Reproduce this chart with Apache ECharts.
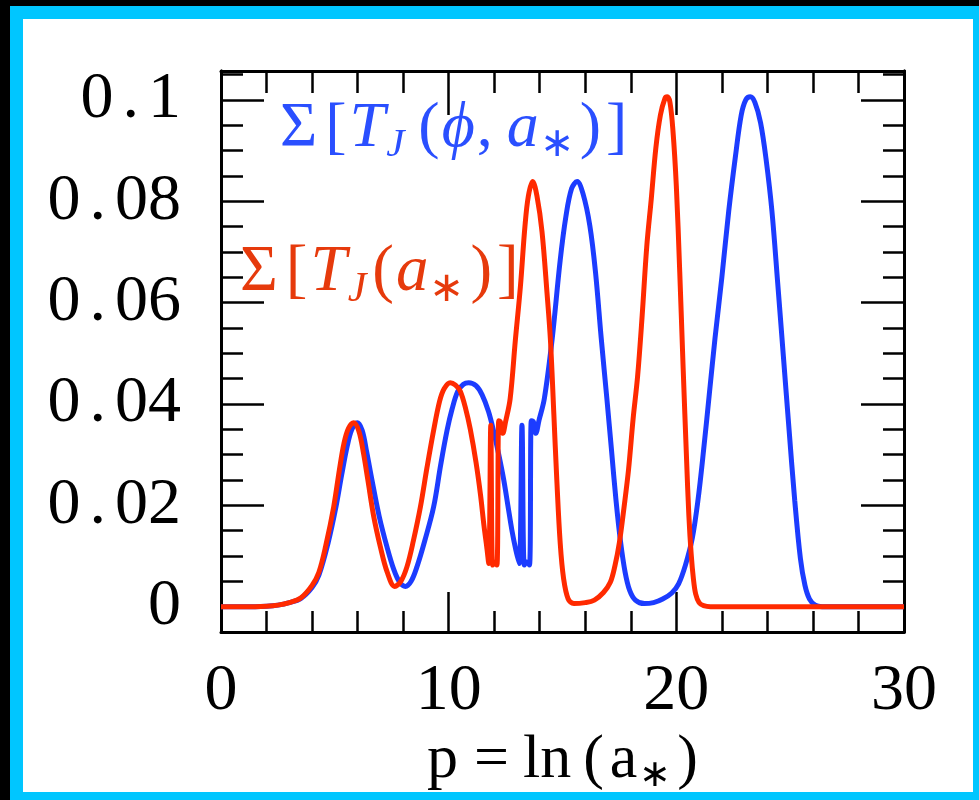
<!DOCTYPE html>
<html>
<head>
<meta charset="utf-8">
<script src="https://cdn.jsdelivr.net/npm/echarts@6/dist/echarts.min.js"></script>
<style>
html,body{margin:0;padding:0;background:#000;width:979px;height:800px;overflow:hidden;}
#frame{position:absolute;left:10px;top:6px;width:976px;height:799px;background:#fff;border:13px solid #00c6ff;box-sizing:border-box;}
#chart{position:absolute;left:0;top:0;width:979px;height:800px;}
</style>
</head>
<body>
<div id="frame"></div>
<div id="chart"></div>
<script>
// ---- data ----
const redP = [0,1,2,2.5,3,3.5,4,4.3,4.6,4.95,5.2,5.4,5.6,5.83,6.05,6.25,6.45,6.7,7.0,7.3,7.63,7.9,8.17,8.45,8.76,9.05,9.34,9.6,9.8,10.07,10.3,10.51,10.75,10.95,11.2,11.4,11.55,11.68,11.76,11.85,11.93,12.02,12.12,12.2,12.27,12.38,12.5,12.7,12.93,13.15,13.35,13.5,13.69,13.88,14.1,14.32,14.47,14.62,14.75,14.9,15.05,15.25,15.5,16.0,16.4,16.8,17.1,17.3,17.5,17.7,17.9,18.1,18.3,18.5,18.7,18.9,19.1,19.3,19.5,19.6,19.72,19.85,20.0,20.15,20.3,20.45,20.55,20.65,20.75,20.85,21.0,21.2,21.5,30];
const redV = [0,0,0.0001,0.0003,0.0008,0.0017,0.0042,0.0068,0.012,0.0197,0.027,0.0322,0.0352,0.0363,0.0347,0.0305,0.025,0.018,0.0118,0.0068,0.0040,0.0050,0.0079,0.013,0.0197,0.0275,0.0348,0.0405,0.043,0.0442,0.0437,0.0425,0.039,0.035,0.0285,0.022,0.016,0.0115,0.0085,0.0358,0.0082,0.0088,0.0082,0.0367,0.0365,0.0342,0.0365,0.041,0.0526,0.0631,0.075,0.081,0.0839,0.081,0.074,0.0619,0.0526,0.038,0.025,0.0125,0.0055,0.0015,0.0006,0.0008,0.0013,0.0028,0.0048,0.008,0.0127,0.0195,0.027,0.037,0.0455,0.0575,0.071,0.0805,0.0905,0.097,0.1003,0.1006,0.0995,0.094,0.083,0.066,0.047,0.029,0.018,0.0105,0.0055,0.0025,0.0008,0.0002,0,0];
const blueP = [0,1,2,2.5,3,3.5,4,4.3,4.7,5.05,5.3,5.55,5.75,5.98,6.2,6.4,6.63,6.95,7.29,7.6,7.85,8.1,8.35,8.61,8.95,9.34,9.65,9.93,10.15,10.4,10.65,10.88,11.2,11.47,11.75,11.98,12.2,12.42,12.6,12.78,12.95,13.1,13.22,13.32,13.42,13.55,13.63,13.72,13.83,13.97,14.2,14.54,14.9,15.15,15.4,15.64,15.9,16.2,16.45,16.7,16.95,17.15,17.35,17.55,17.75,17.95,18.2,18.6,19.0,19.4,19.8,20.1,20.4,20.7,20.95,21.2,21.45,21.7,22.0,22.3,22.6,22.85,23.05,23.25,23.45,23.7,23.95,24.2,24.45,24.7,24.95,25.2,25.45,25.65,25.85,26.1,26.4,30];
const blueV = [0,0,0.0001,0.0003,0.0008,0.0016,0.0038,0.0062,0.0125,0.0197,0.026,0.0318,0.035,0.0363,0.0348,0.0305,0.025,0.0178,0.0118,0.0072,0.0048,0.0040,0.005,0.0079,0.013,0.0197,0.028,0.0348,0.039,0.0425,0.0439,0.0442,0.0436,0.0418,0.0385,0.0345,0.030,0.025,0.020,0.015,0.0112,0.0085,0.0358,0.0082,0.0088,0.0082,0.0367,0.0365,0.0342,0.0368,0.041,0.0526,0.0684,0.077,0.0825,0.0839,0.0815,0.0752,0.066,0.053,0.041,0.031,0.021,0.0128,0.0068,0.0032,0.0013,0.0006,0.0008,0.0015,0.0027,0.0045,0.0082,0.0135,0.021,0.031,0.042,0.053,0.065,0.078,0.089,0.097,0.1,0.1006,0.0995,0.0955,0.088,0.078,0.064,0.0495,0.035,0.021,0.0095,0.0042,0.0015,0.0003,0,0];

const xLabels = [0, 10, 20, 30];
const yLabels = [0, 0.02, 0.04, 0.06, 0.08, 0.1];
const yMajorTicks = [0, 0.02, 0.04, 0.06, 0.08, 0.1];
const yAllTicks = [0, 0.005, 0.01, 0.015, 0.02, 0.025, 0.03, 0.035, 0.04, 0.045, 0.05, 0.055, 0.06, 0.065, 0.07, 0.075, 0.08, 0.085, 0.09, 0.095, 0.1, 0.105];

const xName = 'p=ln(a∗)';
const blueLabel = 'Σ[T_J(ϕ, a∗)]';
const redLabel = 'Σ[T_J(a∗)]';
// --------------------------------------

const zip = (a, b) => a.map((v, i) => [v, b[i]]);
const FONT = 'Liberation Serif';
const BLUE = '#1c3cff', RED = '#ff2a00';
const BLUE_T = '#2a4fff', RED_T = '#e63a0c';
const XMIN = 0, XMAX = 30, XSTEP = 10, YMIN = -0.005, YMAX = 0.1057;
const TICK = { color: '#000', width: 2.5 };

function xAx(pos, majorLen, minorLen, extra) {
  return Object.assign({
    type: 'value', gridIndex: 0, position: pos, offset: 0, min: XMIN, max: XMAX, interval: XSTEP,
    axisLine: { show: true, onZero: false, lineStyle: { color: '#000', width: 3 } },
    axisTick: { show: true, inside: true, length: majorLen, lineStyle: TICK },
    minorTick: { show: true, splitNumber: 5, length: minorLen, lineStyle: TICK },
    axisLabel: { show: false },
    splitLine: { show: false }, minorSplitLine: { show: false }
  }, extra || {});
}
function yAx(pos, ticks, len, extra) {
  return Object.assign({
    type: 'value', gridIndex: 0, position: pos, offset: 0, min: YMIN, max: YMAX,
    axisLine: { show: true, onZero: false, lineStyle: { color: '#000', width: 3 } },
    axisTick: { show: true, inside: true, length: len, customValues: ticks, lineStyle: TICK },
    axisLabel: { show: false },
    splitLine: { show: false }
  }, extra || {});
}

function richText(color, size, gapJ) {
  const sub = Math.round(size * 0.64);
  const pad = Math.round(size * 0.52);
  const mk = (italic, fs, padding) => ({ fontFamily: FONT, fontStyle: italic ? 'italic' : 'normal', fontSize: fs, fill: color, padding: padding });
  return {
    sg: mk(false, size, [0, 8, 0, 0]),
    lb: mk(false, size, [0, 3, 0, 0]),
    T: mk(true, size, [0, 1, 0, 0]),
    J: mk(true, sub, [pad, gapJ, 0, 0]),
    lp: mk(false, size, [0, 2, 0, 0]),
    v: mk(true, size, [0, 2, 0, 0]),
    cm: mk(false, size, [0, 14, 0, 0]),
    a: mk(true, size, [0, 1, 0, 0]),
    st: mk(false, sub, [pad, 6, 0, 0]),
    rp: mk(false, size, [0, 5, 0, 0]),
    rb: mk(false, size, [0, 0, 0, 0])
  };
}
function toRich(s) {
  const m = s.match(/^Σ\[T_J\((.*)\)\]$/);
  const parts = m[1].split(', ');
  let inner = '';
  parts.forEach((p, k) => {
    if (k > 0) inner += '{cm|,}';
    if (p.endsWith('∗')) inner += '{a|' + p.slice(0, -1) + '}{st|∗}';
    else inner += '{v|' + p + '}';
  });
  return '{sg|Σ}{lb|[}{T|T}{J|J}{lp|(}' + inner + '{rp|)}{rb|]}';
}
function nameRich(s) {
  const m = s.match(/^(p)(=)(ln)(\()(a)(∗)(\))$/);
  return '{p|' + m[1] + '}{e|' + m[2] + '}{n|' + m[3] + '}{o|' + m[4] + '}{n0|' + m[5] + '}{s|' + m[6] + '}{c|' + m[7] + '}';
}
const NF = 62;
const nameStyle = (padding, fs) => ({ fontFamily: FONT, fontSize: fs || NF, color: '#000', padding: padding });

const chart = echarts.init(document.getElementById('chart'), null, { renderer: 'canvas' });
chart.setOption({
  animation: false,
  backgroundColor: 'transparent',
  grid: { left: 221, top: 71, width: 683, height: 561, outerBoundsMode: 'none' },
  xAxis: [
    xAx('bottom', 40, 21, {
      axisLabel: { show: true, customValues: xLabels, margin: 27, fontFamily: FONT, fontSize: 66, color: '#000' },
      name: nameRich(xName),
      nameLocation: 'middle', nameGap: 88,
      nameTextStyle: {
        rich: {
          p: nameStyle([0, 14, 0, 0]),
          e: nameStyle([0, 14, 0, 2]),
          n: nameStyle([0, 12, 0, 0]),
          o: nameStyle([0, 6, 0, 0]),
          n0: nameStyle([0, 0, 0, 0]),
          s: nameStyle([30, 2, 0, 2], 38),
          c: nameStyle([0, 0, 0, 4])
        }
      }
    }),
    xAx('top', 44, 22)
  ],
  yAxis: [
    yAx('left', yAllTicks, 22, {
      axisLabel: {
        show: true, customValues: yLabels, margin: 40, fontFamily: FONT, fontSize: 66, color: '#000',
        formatter: v => {
          if (Math.abs(v) < 1e-9) return '{d|0}';
          const s = String(+v.toFixed(2)).split('.');
          return '{d|' + s[0] + '}{pt|.}{d|' + s[1] + '}';
        },
        rich: {
          d: { fontFamily: FONT, fontSize: 66, color: '#000' },
          pt: { fontFamily: FONT, fontSize: 66, color: '#000', padding: [0, 9, 0, 9] }
        }
      }
    }),
    yAx('right', yAllTicks, 21),
    yAx('left', yMajorTicks, 43),
    yAx('right', yMajorTicks, 43)
  ],
  series: [
    { type: 'line', name: blueLabel, xAxisIndex: 0, yAxisIndex: 0, data: zip(blueP, blueV),
      showSymbol: false, smooth: 0.35,
      lineStyle: { color: BLUE, width: 5 }, z: 3 },
    { type: 'line', name: redLabel, xAxisIndex: 0, yAxisIndex: 0, data: zip(redP, redV),
      showSymbol: false, smooth: 0.35,
      lineStyle: { color: RED, width: 5 }, z: 4 }
  ]
});
chart.setOption({
  graphic: [
    { type: 'text', left: 280, top: 97, z: 100,
      style: { text: toRich(blueLabel), rich: richText(BLUE_T, 64, 14) } },
    { type: 'text', left: 240, top: 240, z: 100,
      style: { text: toRich(redLabel), rich: richText(RED_T, 65, 6) } }
  ]
});
</script>
</body>
</html>
